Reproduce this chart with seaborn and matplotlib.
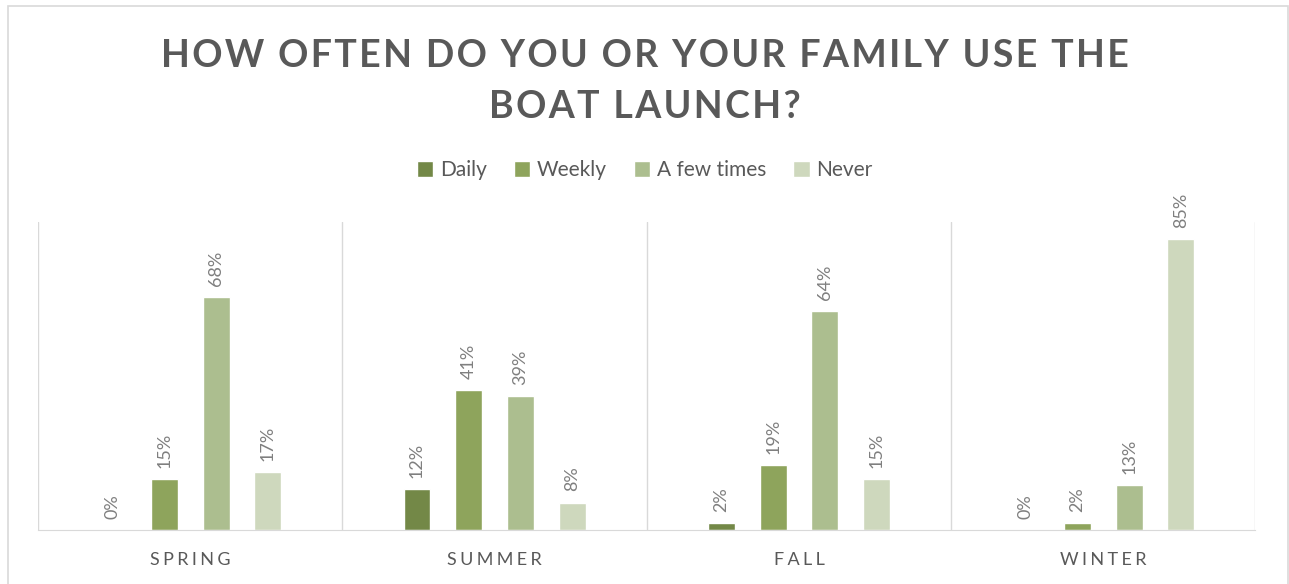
import matplotlib
matplotlib.use("Agg")
import matplotlib.pyplot as plt
import seaborn as sns
import pandas as pd
from matplotlib.patches import Rectangle

seasons = ["SPRING", "SUMMER", "FALL", "WINTER"]
answers = ["Daily", "Weekly", "A few times", "Never"]
daily = [0, 12, 2, 0]
weekly = [15, 41, 19, 2]
few_times = [68, 39, 64, 13]
never = [17, 8, 15, 85]
colors = ["#77933C", "#92B050", "#AEC687", "#CFDDB8"]

rows = []
for ans, vals in zip(answers, [daily, weekly, few_times, never]):
    for s, v in zip(seasons, vals):
        rows.append({"season": s, "answer": ans, "pct": v})
df = pd.DataFrame(rows)

sns.set_style("white")
plt.rcParams["font.family"] = ["Lato", "DejaVu Sans"]
grey = "#595959"


def spaced(txt, sep):
    # fake letter spacing
    return "\n".join(sep.join(line) for line in txt.split("\n"))


fig = plt.figure(figsize=(12.89, 5.84), dpi=100)
ax = fig.add_axes([0.0295, 0.0925, 0.9445, 0.5275])

sns.barplot(data=df, x="season", y="pct", hue="answer", hue_order=answers,
            palette=colors, width=0.68, gap=0.48, ax=ax, legend=True)

for cont in ax.containers:
    ax.bar_label(cont, labels=[f"{int(round(b.get_height()))}%" for b in cont],
                 rotation=90, padding=8, color="#7F7F7F", fontsize=13)

ax.set_ylim(0, 90)
ax.set_xlim(-0.5, 3.5)
ax.set_yticks([])
ax.set_xlabel("")
ax.set_ylabel("")
ax.set_xticks(range(4))
ax.set_xticklabels([spaced(s, "\u2009\u200a") for s in seasons], color=grey, fontsize=13)
ax.tick_params(axis="x", length=0, pad=16)
for sp in ["top", "right", "left"]:
    ax.spines[sp].set_visible(False)
ax.spines["bottom"].set_color("#D9D9D9")
for xv in [-0.5, 0.5, 1.5, 2.5, 3.5]:
    ax.axvline(xv, color="#D9D9D9", lw=1)

h, l = ax.get_legend_handles_labels()
ax.legend_.remove()
fig.legend(h, l, loc="center", bbox_to_anchor=(0.5, 0.709), ncol=4, frameon=False,
           fontsize=15, labelcolor=grey, handlelength=0.8, handleheight=0.8,
           handletextpad=0.3, columnspacing=1.3)

fig.text(0.5, 0.86, spaced("HOW OFTEN DO YOU OR YOUR FAMILY USE THE\nBOAT LAUNCH?", "\u200a"),
         ha="center", va="center", fontsize=27, fontweight="bold", color=grey,
         linespacing=1.6)

fig.patches.append(Rectangle((0.006, -0.01), 0.993, 1.0, transform=fig.transFigure,
                             fill=False, edgecolor="#D9D9D9", lw=1.2))

fig.savefig("out.png", dpi=100)
